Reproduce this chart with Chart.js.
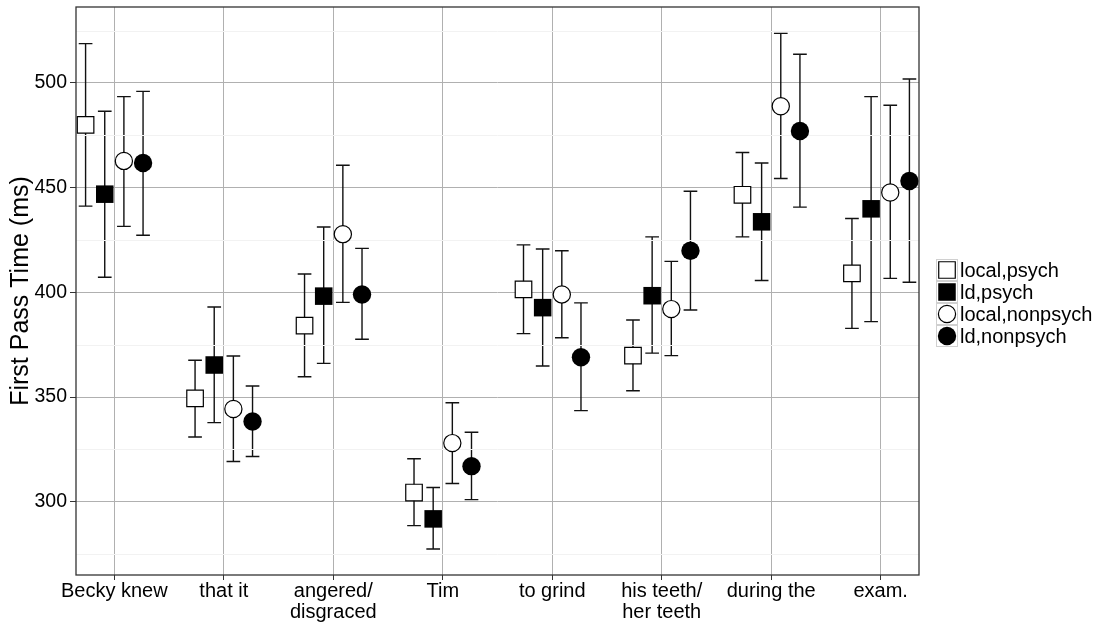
<!DOCTYPE html>
<html lang="en">
<head>
    <meta charset="UTF-8">
    <title>First Pass Time</title>
    <script src="https://cdn.jsdelivr.net/npm/chart.js"></script>
    <style>
        body { margin:0; background:#fff; }
        .wrap { width:1111px; height:625px; }
    </style>
</head>
<body>
    <div class="wrap"><canvas id="fpChart" width="1111" height="625"></canvas></div>
    <script>
    // regions (x axis)
    const categories = ['Becky knew', 'that it', ['angered/', 'disgraced'], 'Tim', 'to grind', ['his teeth/', 'her teeth'], 'during the', 'exam.'];
    const yTicks = [300, 350, 400, 450, 500];
    const yMinor = [275, 325, 375, 425, 475, 525];

    // local,psych
    const localPsychMean = [480.0, 349.4, 384.1, 304.4, 401.4, 369.8, 446.6, 409.1];
    const localPsychLo   = [441.2, 330.9, 359.7, 288.6, 380.3, 353.0, 426.5, 382.8];
    const localPsychHi   = [518.8, 367.6, 408.8, 320.5, 422.7, 386.8, 466.8, 435.3];
    // ld,psych
    const ldPsychMean = [446.9, 365.3, 398.2, 291.8, 392.7, 398.4, 433.7, 439.9];
    const ldPsychLo   = [407.2, 337.8, 366.1, 277.4, 364.8, 371.0, 405.7, 386.0];
    const ldPsychHi   = [486.5, 393.0, 431.2, 306.8, 420.7, 426.5, 461.8, 493.5];
    // local,nonpsych
    const localNonpsychMean = [462.8, 344.3, 427.8, 328.0, 399.0, 392.0, 488.9, 447.7];
    const localNonpsychLo   = [431.5, 319.2, 395.2, 308.7, 378.3, 369.8, 454.4, 406.7];
    const localNonpsychHi   = [493.5, 369.6, 460.7, 347.3, 419.9, 414.8, 523.7, 489.4];
    // ld,nonpsych
    const ldNonpsychMean = [461.8, 338.3, 399.0, 317.0, 369.0, 419.9, 477.1, 453.2];
    const ldNonpsychLo   = [427.3, 321.6, 377.6, 301.0, 343.5, 391.6, 440.7, 404.8];
    const ldNonpsychHi   = [496.0, 355.3, 421.0, 333.2, 395.0, 448.3, 513.7, 501.9];

    const dodge = [-0.2625, -0.0875, 0.0875, 0.2625];
    const FONT = "'Liberation Sans', Arial, Helvetica, sans-serif";

    function makeSet(label, mean, lo, hi, k, style, filled, radius) {
        return {
            label: label,
            data: mean.map((v, i) => ({ x: i + dodge[k], y: v, lo: lo[i], hi: hi[i] })),
            pointStyle: style,
            pointRadius: radius,
            pointHoverRadius: radius,
            pointBackgroundColor: filled ? '#000' : '#fff',
            pointBorderColor: '#000',
            pointBorderWidth: filled ? 0 : 1.2,
            showLine: false
        };
    }

    // error bars under the points
    const errorBars = {
        id: 'errorBars',
        beforeDatasetsDraw(chart) {
            const { ctx, scales: { x, y } } = chart;
            const cap = 0.0625;
            ctx.save();
            ctx.strokeStyle = '#111';
            ctx.lineWidth = 1.4;
            chart.data.datasets.forEach(ds => {
                ds.data.forEach(p => {
                    const px = x.getPixelForValue(p.x);
                    const x0 = x.getPixelForValue(p.x - cap), x1 = x.getPixelForValue(p.x + cap);
                    const yl = y.getPixelForValue(p.lo), yh = y.getPixelForValue(p.hi);
                    ctx.beginPath();
                    ctx.moveTo(px, yl); ctx.lineTo(px, yh);
                    ctx.moveTo(x0, yl); ctx.lineTo(x1, yl);
                    ctx.moveTo(x0, yh); ctx.lineTo(x1, yh);
                    ctx.stroke();
                });
            });
            ctx.restore();
        }
    };

    // minor grid, panel border and legend
    const panel = {
        id: 'panel',
        beforeDatasetsDraw(chart) {
            const { ctx, chartArea: a, scales: { y } } = chart;
            ctx.save();
            ctx.strokeStyle = '#f2f2f2';
            ctx.lineWidth = 1;
            yMinor.forEach(v => {
                const py = Math.round(y.getPixelForValue(v)) + 0.5;
                ctx.beginPath(); ctx.moveTo(a.left, py); ctx.lineTo(a.right, py); ctx.stroke();
            });
            ctx.restore();
        },
        afterDraw(chart) {
            const { ctx, chartArea: a } = chart;
            ctx.save();
            ctx.strokeStyle = '#333';
            ctx.lineWidth = 1.3;
            ctx.strokeRect(a.left, a.top, a.right - a.left, a.bottom - a.top);

            // legend
            const kx = 936, ky = 259, ks = 22;
            ctx.font = '20px ' + FONT;
            ctx.textBaseline = 'middle';
            ctx.fillStyle = '#000';
            chart.data.datasets.forEach((ds, i) => {
                const top = ky + i * ks;
                ctx.fillStyle = '#fff';
                ctx.fillRect(kx, top, ks, ks);
                ctx.strokeStyle = '#d0d0d0';
                ctx.lineWidth = 1;
                ctx.strokeRect(kx + 0.5, top + 0.5, ks - 1, ks - 1);
                ctx.fillStyle = ds.pointBackgroundColor;
                ctx.strokeStyle = ds.pointBorderColor;
                ctx.lineWidth = ds.pointBorderWidth;
                Chart.helpers.drawPoint(ctx, { pointStyle: ds.pointStyle, radius: ds.pointRadius, rotation: 0, borderWidth: ds.pointBorderWidth }, kx + ks / 2, top + ks / 2);
                ctx.fillStyle = '#000';
                ctx.fillText(ds.label, kx + ks + 2, top + ks / 2 + 1);
            });
            ctx.restore();
        }
    };

    const ctx = document.getElementById('fpChart').getContext('2d');
    new Chart(ctx, {
        type: 'scatter',
        data: {
            datasets: [
                makeSet('local,psych', localPsychMean, localPsychLo, localPsychHi, 0, 'rect', false, 11.7),
                makeSet('ld,psych', ldPsychMean, ldPsychLo, ldPsychHi, 1, 'rect', true, 12.4),
                makeSet('local,nonpsych', localNonpsychMean, localNonpsychLo, localNonpsychHi, 2, 'circle', false, 8.6),
                makeSet('ld,nonpsych', ldNonpsychMean, ldNonpsychLo, ldNonpsychHi, 3, 'circle', true, 9.2)
            ]
        },
        options: {
            responsive: false,
            animation: false,
            layout: { autoPadding: false, padding: { top: 7, right: 192, bottom: 0, left: 0 } },
            plugins: { legend: { display: false }, tooltip: { enabled: false } },
            scales: {
                x: {
                    type: 'linear',
                    min: -0.35, max: 7.35,
                    afterFit: s => { s.height = 50; s.paddingLeft = 0; s.paddingRight = 0; },
                    afterBuildTicks: s => { s.ticks = categories.map((c, i) => ({ value: i })); },
                    ticks: {
                        autoSkip: false, maxRotation: 0, padding: 1,
                        color: '#000',
                        font: { family: FONT, size: 20, lineHeight: 1.05 },
                        callback: (v) => categories[v]
                    },
                    grid: { color: '#b0b0b0', lineWidth: 1, tickColor: '#333', tickLength: 5 },
                    border: { display: false }
                },
                y: {
                    min: 265, max: 536.3,
                    afterFit: s => { s.width = 76; s.paddingTop = 0; s.paddingBottom = 0; },
                    afterBuildTicks: s => { s.ticks = yTicks.map(v => ({ value: v })); },
                    ticks: {
                        padding: 3, color: '#000',
                        font: { family: FONT, size: 19.5, lineHeight: 0.5 }
                    },
                    grid: { color: '#b0b0b0', lineWidth: 1, tickColor: '#333', tickLength: 6 },
                    border: { display: false },
                    title: {
                        display: true, text: 'First Pass Time (ms)', color: '#000',
                        font: { family: FONT, size: 25, lineHeight: 1.2 },
                        padding: { top: 6, bottom: 0 }
                    }
                }
            }
        },
        plugins: [errorBars, panel]
    });
    </script>
</body>
</html>
